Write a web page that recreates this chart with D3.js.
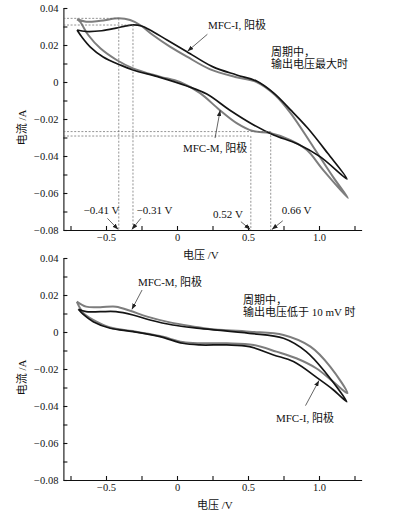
<!DOCTYPE html>
<html>
<head>
<meta charset="utf-8">
<script src="https://cdn.jsdelivr.net/npm/d3@7"></script>
<style>
  body { margin: 0; background: #fff; }
  text { font-family: "Liberation Serif", "Noto Sans CJK SC", serif; fill: #111; }
</style>
</head>
<body>
<svg width="396" height="526"></svg>
<script>
// ---- data: [voltage V, current A], loop goes right along top then back ----
var topMfcI = [
  [-0.704, 0.0281], [-0.64, 0.0273], [-0.53, 0.0277], [-0.43, 0.0291], [-0.36, 0.0303], [-0.31, 0.0309],
  [-0.25, 0.0303], [-0.19, 0.0281], [-0.07, 0.0227], [0.07, 0.0164], [0.25, 0.0083], [0.42, 0.0038],
  [0.56, 0.0005], [0.68, -0.0059], [0.80, -0.0151], [0.92, -0.0249], [1.06, -0.0384], [1.197, -0.0524],
  [1.01, -0.0405], [0.85, -0.0335], [0.68, -0.0286], [0.54, -0.0232], [0.37, -0.0151], [0.21, -0.0065],
  [0.07, -0.0022], [-0.12, 0.0025], [-0.31, 0.0065], [-0.40, 0.0092], [-0.52, 0.0135], [-0.61, 0.0189],
  [-0.67, 0.0243], [-0.704, 0.0281]
];
var topMfcM = [
  [-0.704, 0.0339], [-0.64, 0.0326], [-0.54, 0.0331], [-0.41, 0.0344], [-0.33, 0.0335], [-0.26, 0.0308],
  [-0.17, 0.0254], [-0.05, 0.0191], [0.07, 0.0137], [0.23, 0.0070], [0.41, 0.0027], [0.56, 0.0],
  [0.69, -0.0070], [0.80, -0.0168], [0.96, -0.0351], [1.10, -0.0514], [1.204, -0.0627],
  [1.03, -0.0476], [0.915, -0.0368], [0.80, -0.0314], [0.655, -0.0276], [0.535, -0.0265], [0.42, -0.0222],
  [0.30, -0.0151], [0.16, -0.0059], [0.02, 0.0], [-0.12, 0.0029], [-0.31, 0.0074], [-0.425, 0.0119],
  [-0.54, 0.0182], [-0.625, 0.0254], [-0.683, 0.0326], [-0.704, 0.0339]
];
var botMfcI = [
  [-0.695, 0.0123], [-0.64, 0.0110], [-0.54, 0.0110], [-0.43, 0.0110], [-0.31, 0.0092], [-0.19, 0.0065],
  [-0.03, 0.0038], [0.16, 0.0020], [0.51, -0.0007], [0.75, -0.0034], [0.91, -0.0106], [1.05, -0.0223],
  [1.195, -0.0377],
  [1.10, -0.0312], [1.0, -0.0255], [0.82, -0.0160], [0.68, -0.0124], [0.51, -0.0079], [0.35, -0.0070],
  [0.16, -0.0070], [0.04, -0.0061], [-0.12, -0.0025], [-0.31, 0.0002], [-0.47, 0.0020], [-0.59, 0.0056],
  [-0.66, 0.0095], [-0.695, 0.0123]
];
var botMfcM = [
  [-0.706, 0.0164], [-0.64, 0.0137], [-0.54, 0.0134], [-0.43, 0.0137], [-0.33, 0.0115], [-0.21, 0.0083],
  [-0.05, 0.0052], [0.12, 0.0029], [0.23, 0.0016], [0.51, 0.0002], [0.75, -0.0016], [0.94, -0.0079],
  [1.08, -0.0188], [1.2, -0.0331],
  [1.10, -0.0269], [0.98, -0.0196], [0.84, -0.0142], [0.70, -0.0106], [0.54, -0.0070], [0.35, -0.0061],
  [0.16, -0.0061], [0.04, -0.0054], [-0.12, -0.0022], [-0.31, 0.0005], [-0.47, 0.0024], [-0.59, 0.0065],
  [-0.66, 0.0103], [-0.706, 0.0164]
];

// marked peak voltages in the top panel
var markV = [-0.41, -0.31, 0.52, 0.66];
var markI = [0.0344, 0.0308, -0.0292, -0.0268];
var markText = ['\u22120.41 V', '\u22120.31 V', '0.52 V', '0.66 V'];

// ticks
var xTicks = [-0.75, -0.5, -0.25, 0, 0.25, 0.5, 0.75, 1.0, 1.25];
var xTickLabels = ['', '\u22120.5', '', '0', '', '0.5', '', '1.0', ''];
var yTicks = [-0.08, -0.07, -0.06, -0.05, -0.04, -0.03, -0.02, -0.01, 0, 0.01, 0.02, 0.03, 0.04];
var yTickLabels = ['\u22120.08', '', '\u22120.06', '', '\u22120.04', '', '\u22120.02', '', '0', '', '0.02', '', '0.04'];

var svg = d3.select('svg');

// arrow head
svg.append('defs').append('marker')
  .attr('id', 'arr')
  .attr('viewBox', '0 0 8 6')
  .attr('refX', 8).attr('refY', 3)
  .attr('markerWidth', 6).attr('markerHeight', 4.5)
  .attr('markerUnits', 'userSpaceOnUse')
  .attr('orient', 'auto')
  .append('path').attr('d', 'M0,0 L8,3 L0,6 Z').attr('fill', '#222');

var x = d3.scaleLinear().domain([-0.8, 1.3]).range([63.4, 361.6]);

function drawPanel(top, bottom, loops, xLabelX) {
  var y = d3.scaleLinear().domain([-0.08, 0.04]).range([bottom, top]);
  var g = svg.append('g');

  var line = d3.line()
    .curve(d3.curveCatmullRom.alpha(0.5))
    .x(function (d) { return x(d[0]); })
    .y(function (d) { return y(d[1]); });

  loops.forEach(function (l) {
    g.append('path')
      .datum(l.data)
      .attr('fill', 'none')
      .attr('stroke', l.color)
      .attr('stroke-width', l.width)
      .attr('stroke-linejoin', 'round')
      .attr('d', line);
  });

  var xa = g.append('g')
    .attr('transform', 'translate(0,' + bottom + ')')
    .call(d3.axisBottom(x).tickValues(xTicks).tickSize(-4).tickSizeOuter(0).tickPadding(4)
      .tickFormat(function (d, i) { return xTickLabels[i]; }));
  var ya = g.append('g')
    .attr('transform', 'translate(' + x(-0.8) + ',0)')
    .call(d3.axisLeft(y).tickValues(yTicks).tickSize(-4).tickSizeOuter(0).tickPadding(5)
      .tickFormat(function (d, i) { return yTickLabels[i]; }));
  [xa, ya].forEach(function (a) {
    a.selectAll('path, line').attr('stroke', '#111').attr('stroke-width', 1.1);
    a.selectAll('text').attr('font-size', 10.5).attr('fill', '#111')
      .attr('font-family', '"Liberation Serif", serif');
  });

  g.append('text')
    .attr('x', xLabelX).attr('y', bottom + 29)
    .attr('font-size', 11)
    .text('电压 /V');
  g.append('text')
    .attr('transform', 'translate(26,' + y(-0.0245) + ') rotate(-90)')
    .attr('text-anchor', 'middle')
    .attr('font-size', 11)
    .text('电流 /A');

  return { g: g, y: y };
}

function arrow(p, y, v0, i0, v1, i1) {
  p.append('line')
    .attr('x1', x(v0)).attr('y1', y(i0))
    .attr('x2', x(v1)).attr('y2', y(i1))
    .attr('stroke', '#222').attr('stroke-width', 0.7)
    .attr('marker-end', 'url(#arr)');
}

function label(p, y, v, i, s, anchor) {
  p.append('text')
    .attr('x', x(v)).attr('y', y(i))
    .attr('text-anchor', anchor || 'start')
    .attr('font-size', 11)
    .text(s);
}

// ---- top panel ----
var P1 = drawPanel(8, 230, [
  { data: topMfcM, color: '#7d7d7d', width: 2 },
  { data: topMfcI, color: '#141414', width: 1.7 }
], 183);

// dotted guide lines
var guides = P1.g.append('g').attr('stroke', '#666').attr('stroke-width', 0.7).attr('stroke-dasharray', '2,1.6');
markV.forEach(function (v, k) {
  guides.append('line')
    .attr('x1', x(-0.8)).attr('x2', x(v))
    .attr('y1', P1.y(markI[k])).attr('y2', P1.y(markI[k]));
  guides.append('line')
    .attr('x1', x(v)).attr('x2', x(v))
    .attr('y1', P1.y(markI[k])).attr('y2', P1.y(-0.08));
});

// marker labels with arrows (label centre V, arrow from -> to)
var markLayout = [
  { lv: -0.532, li: -0.0716, a: [-0.49, -0.0737, -0.414, -0.0797] },
  { lv: -0.158, li: -0.0716, a: [-0.255, -0.0737, -0.318, -0.0797] },
  { lv: 0.359, li: -0.0735, a: [0.45, -0.0755, 0.516, -0.0797] },
  { lv: 0.842, li: -0.0716, a: [0.745, -0.0750, 0.668, -0.0797] }
];
markLayout.forEach(function (m, k) {
  label(P1.g, P1.y, m.lv, m.li, markText[k], 'middle');
  arrow(P1.g, P1.y, m.a[0], m.a[1], m.a[2], m.a[3]);
});

label(P1.g, P1.y, 0.218, 0.0284, 'MFC-I, 阳极');
arrow(P1.g, P1.y, 0.214, 0.0258, 0.074, 0.0166);
label(P1.g, P1.y, 0.662, 0.0141, '周期中，');
label(P1.g, P1.y, 0.662, 0.0076, '输出电压最大时');
label(P1.g, P1.y, 0.042, -0.0378, 'MFC-M, 阳极');
arrow(P1.g, P1.y, 0.268, -0.0303, 0.304, -0.0153);

// ---- bottom panel ----
var P2 = drawPanel(258, 480, [
  { data: botMfcM, color: '#7d7d7d', width: 2 },
  { data: botMfcI, color: '#141414', width: 1.7 }
], 197);

label(P2.g, P2.y, -0.275, 0.0249, 'MFC-M, 阳极');
arrow(P2.g, P2.y, -0.246, 0.0227, -0.318, 0.0122);
label(P2.g, P2.y, 0.465, 0.0151, '周期中，');
label(P2.g, P2.y, 0.465, 0.0086, '输出电压低于 10 mV 时');
label(P2.g, P2.y, 0.697, -0.0484, 'MFC-I, 阳极');
arrow(P2.g, P2.y, 0.905, -0.0398, 1.0, -0.0262);
</script>
</body>
</html>
